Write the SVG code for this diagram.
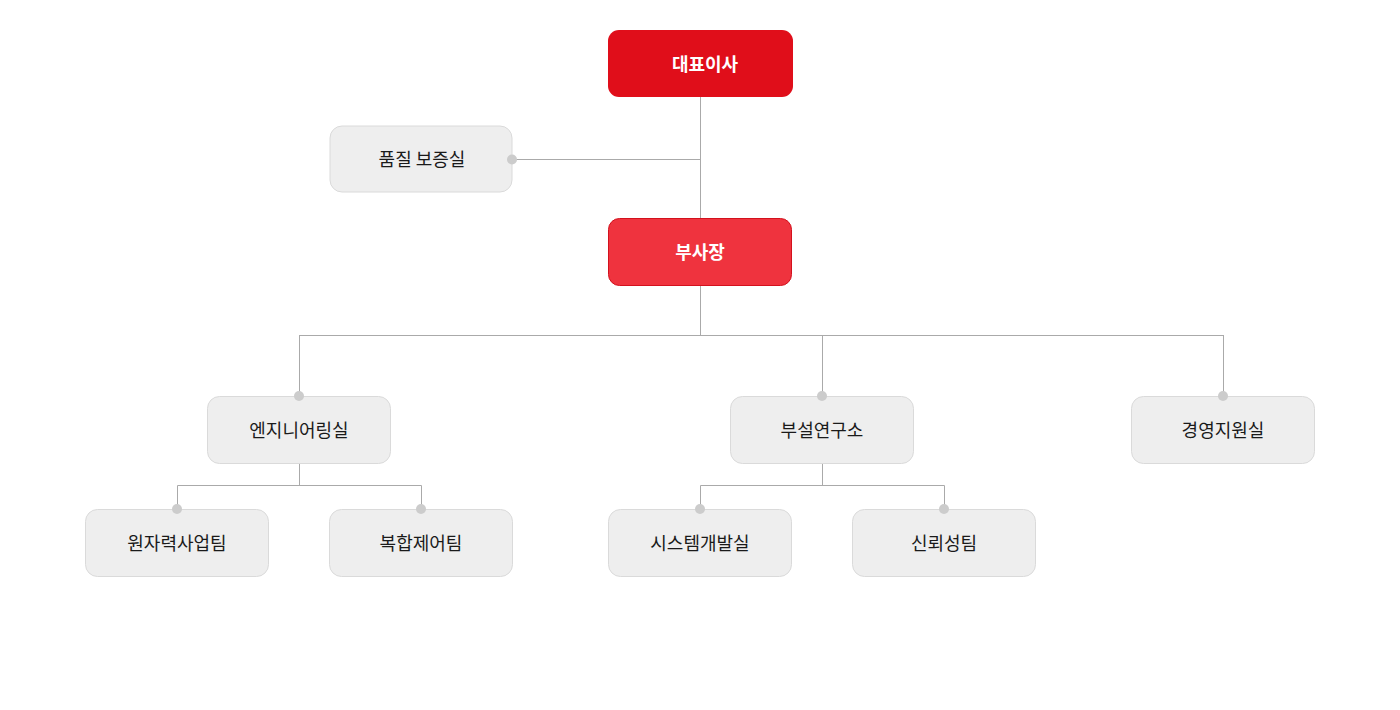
<svg xmlns="http://www.w3.org/2000/svg" width="1400" height="710" viewBox="0 0 1400 710">
<style>
.box{fill:#eeeeee;stroke:#dadada;stroke-width:1}
.lbl{font-family:"Noto Sans CJK KR","Noto Sans",sans-serif;font-size:18px;fill:#1a1a1a;text-anchor:middle;dominant-baseline:central}
.wl{font-family:"Noto Sans CJK KR","Noto Sans",sans-serif;font-size:18px;font-weight:bold;fill:#ffffff;text-anchor:middle;dominant-baseline:central}
.ln{stroke:#aaaaaa;stroke-width:1;fill:none}
.dot{fill:#cccccc}
</style>
<rect width="1400" height="710" fill="#ffffff"/>
<g id="ceo"><rect x="608" y="30" width="185" height="67" rx="11" fill="#e00e1a"/><text class="wl" x="705" y="62.5">대표이사</text></g>
<g id="qa"><rect class="box" x="330" y="126" width="182" height="66" rx="12"/><text class="lbl" x="422" y="157.5">품질 보증실</text></g>
<g id="vp"><rect x="608.5" y="218.5" width="183" height="67" rx="11" fill="#ef333e" stroke="#d3111d"/><text class="wl" x="700" y="250.5">부사장</text></g>
<g id="eng"><rect class="box" x="207.5" y="396.5" width="183" height="67" rx="12"/><text class="lbl" x="299" y="428.5">엔지니어링실</text></g>
<g id="lab"><rect class="box" x="730.5" y="396.5" width="183" height="67" rx="12"/><text class="lbl" x="822" y="428.5">부설연구소</text></g>
<g id="mgmt"><rect class="box" x="1131.5" y="396.5" width="183" height="67" rx="12"/><text class="lbl" x="1223" y="428.5">경영지원실</text></g>
<g id="nuclear"><rect class="box" x="85.5" y="509.5" width="183" height="67" rx="12"/><text class="lbl" x="177" y="541.5">원자력사업팀</text></g>
<g id="control"><rect class="box" x="329.5" y="509.5" width="183" height="67" rx="12"/><text class="lbl" x="421" y="541.5">복합제어팀</text></g>
<g id="sysdev"><rect class="box" x="608.5" y="509.5" width="183" height="67" rx="12"/><text class="lbl" x="700" y="541.5">시스템개발실</text></g>
<g id="reliab"><rect class="box" x="852.5" y="509.5" width="183" height="67" rx="12"/><text class="lbl" x="944" y="541.5">신뢰성팀</text></g>
<g id="connectors">
<path class="ln" d="M700.5 97 V218 M700.5 286 V335.5"/>
<path class="ln" d="M512 159.5 H700.5"/>
<path class="ln" d="M299.5 335.5 H1223.5"/>
<path class="ln" d="M299.5 335 V396"/>
<path class="ln" d="M822.5 335 V396"/>
<path class="ln" d="M1223.5 335 V396"/>
<path class="ln" d="M299.5 464 V485.5 M177.5 509 V485.5 H421.5 V509"/>
<path class="ln" d="M822.5 464 V485.5 M700.5 509 V485.5 H944.5 V509"/>
<circle class="dot" cx="512" cy="159.5" r="5"/>
<circle class="dot" cx="299" cy="396" r="5"/>
<circle class="dot" cx="822" cy="396" r="5"/>
<circle class="dot" cx="1223" cy="396" r="5"/>
<circle class="dot" cx="177" cy="509" r="5"/>
<circle class="dot" cx="421" cy="509" r="5"/>
<circle class="dot" cx="700" cy="509" r="5"/>
<circle class="dot" cx="944" cy="509" r="5"/>
</g>
</svg>
